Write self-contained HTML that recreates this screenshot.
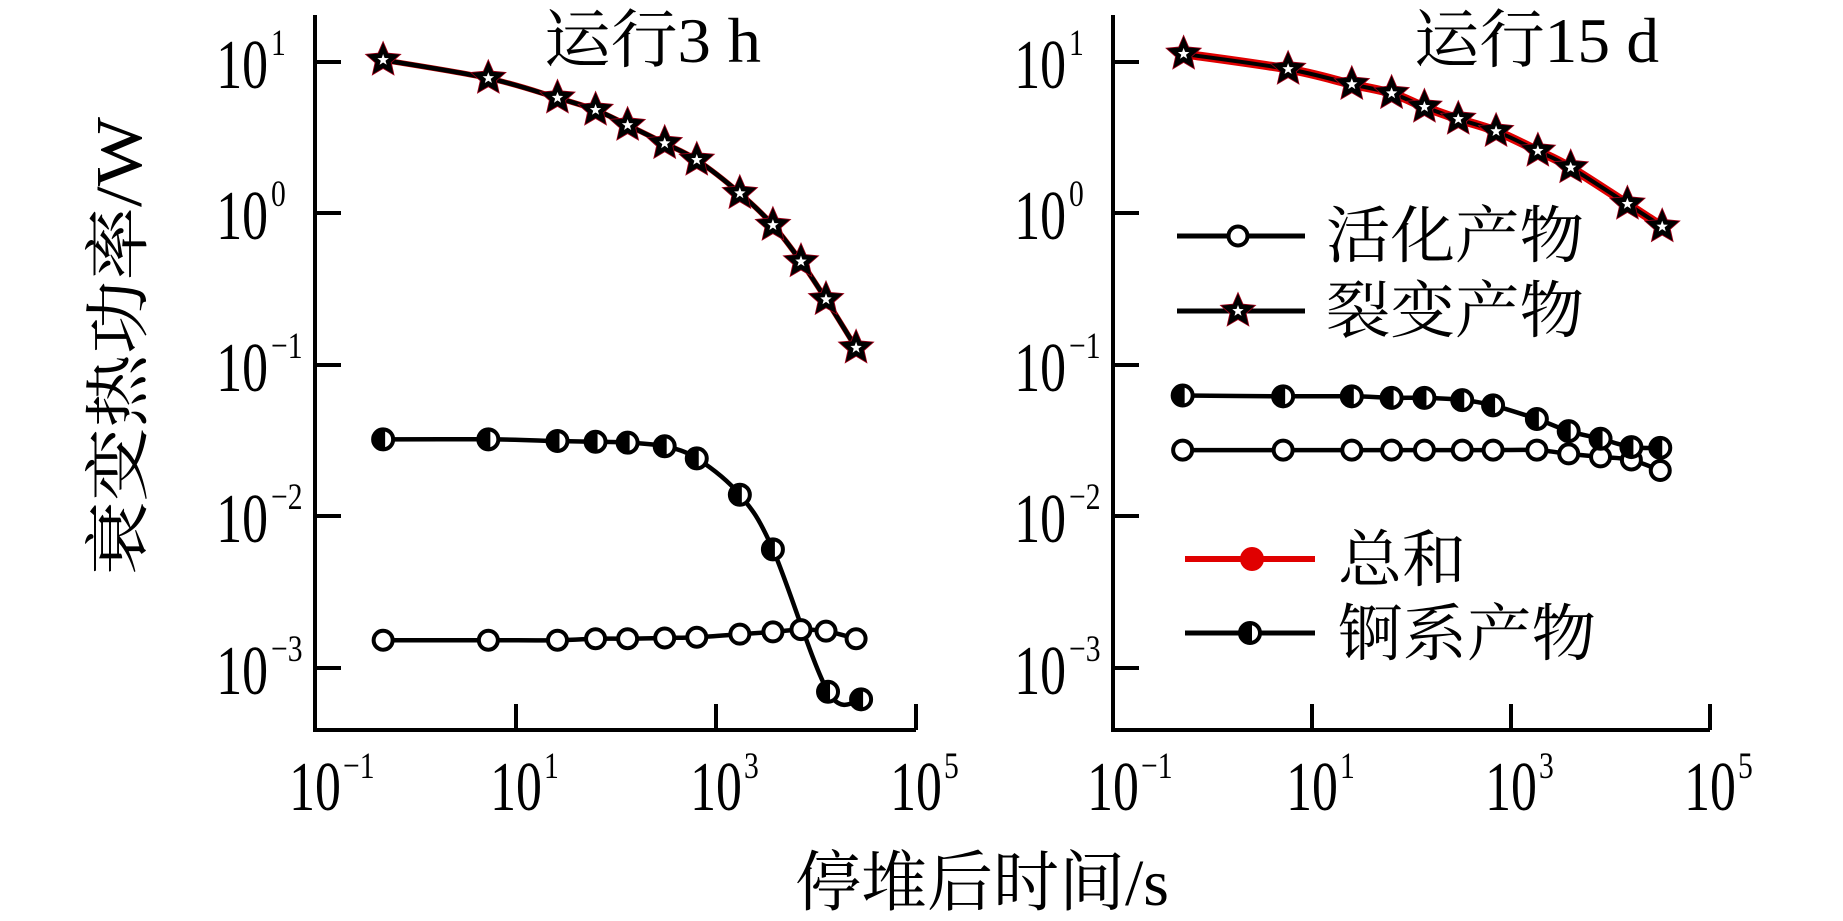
<!DOCTYPE html>
<html><head><meta charset="utf-8"><style>
html,body{margin:0;padding:0;background:#fff;}
svg{display:block;}
text{font-family:"Liberation Serif","Noto Serif CJK SC",serif;fill:#000;}
.cj{font-family:"Liberation Serif","Noto Serif CJK SC","Noto Sans CJK SC",serif;}
</style></head><body>
<svg id="s" width="1843" height="921" viewBox="0 0 1843 921" xmlns="http://www.w3.org/2000/svg">
<g id="axes" stroke="#000" stroke-width="4" fill="none">
<path d="M315 15 V730 H916"/>
<path d="M1113 15 V730 H1710"/>
<path d="M315 62 h26 M315 213 h26 M315 365 h26 M315 516 h26 M315 668 h26"/>
<path d="M1113 62 h26 M1113 213 h26 M1113 365 h26 M1113 516 h26 M1113 668 h26"/>
<path d="M516 730 v-26 M716 730 v-26 M916 730 v-26"/>
<path d="M1312 730 v-26 M1511 730 v-26 M1710 730 v-26"/>
</g>
<g id="data"></g>
<g font-size="70">
<text transform="translate(268,88) scale(0.74,1)" text-anchor="end">10</text>
<text transform="translate(268,239) scale(0.74,1)" text-anchor="end">10</text>
<text transform="translate(268,391) scale(0.74,1)" text-anchor="end">10</text>
<text transform="translate(268,542) scale(0.74,1)" text-anchor="end">10</text>
<text transform="translate(268,694) scale(0.74,1)" text-anchor="end">10</text>
<text transform="translate(1066,88) scale(0.74,1)" text-anchor="end">10</text>
<text transform="translate(1066,239) scale(0.74,1)" text-anchor="end">10</text>
<text transform="translate(1066,391) scale(0.74,1)" text-anchor="end">10</text>
<text transform="translate(1066,542) scale(0.74,1)" text-anchor="end">10</text>
<text transform="translate(1066,694) scale(0.74,1)" text-anchor="end">10</text>
<text transform="translate(315,810) scale(0.74,1)" text-anchor="middle">10</text>
<text transform="translate(516,810) scale(0.74,1)" text-anchor="middle">10</text>
<text transform="translate(716,810) scale(0.74,1)" text-anchor="middle">10</text>
<text transform="translate(916,810) scale(0.74,1)" text-anchor="middle">10</text>
<text transform="translate(1113,810) scale(0.74,1)" text-anchor="middle">10</text>
<text transform="translate(1312,810) scale(0.74,1)" text-anchor="middle">10</text>
<text transform="translate(1511,810) scale(0.74,1)" text-anchor="middle">10</text>
<text transform="translate(1710,810) scale(0.74,1)" text-anchor="middle">10</text>
</g>
<g font-size="37">
<text transform="translate(271,55) scale(0.8,1)">1</text>
<text transform="translate(271,206) scale(0.8,1)">0</text>
<text transform="translate(271,358) scale(0.8,1)">−1</text>
<text transform="translate(271,509) scale(0.8,1)">−2</text>
<text transform="translate(271,661) scale(0.8,1)">−3</text>
<text transform="translate(1069,55) scale(0.8,1)">1</text>
<text transform="translate(1069,206) scale(0.8,1)">0</text>
<text transform="translate(1069,358) scale(0.8,1)">−1</text>
<text transform="translate(1069,509) scale(0.8,1)">−2</text>
<text transform="translate(1069,661) scale(0.8,1)">−3</text>
<text transform="translate(343,778) scale(0.8,1)">−1</text>
<text transform="translate(544,778) scale(0.8,1)">1</text>
<text transform="translate(744,778) scale(0.8,1)">3</text>
<text transform="translate(944,778) scale(0.8,1)">5</text>
<text transform="translate(1141,778) scale(0.8,1)">−1</text>
<text transform="translate(1340,778) scale(0.8,1)">1</text>
<text transform="translate(1539,778) scale(0.8,1)">3</text>
<text transform="translate(1738,778) scale(0.8,1)">5</text>
</g>
<g class="cj" font-size="64">
<text x="544" y="62" textLength="217" lengthAdjust="spacingAndGlyphs">运行3 h</text>
<text x="1414" y="62" textLength="245" lengthAdjust="spacingAndGlyphs">运行15 d</text>
</g>
<g class="cj" font-size="62">
<text x="1326" y="257" textLength="258" lengthAdjust="spacingAndGlyphs">活化产物</text>
<text x="1326" y="332" textLength="258" lengthAdjust="spacingAndGlyphs">裂变产物</text>
<text x="1338" y="581" textLength="128" lengthAdjust="spacingAndGlyphs">总和</text>
<text x="1338" y="655" textLength="258" lengthAdjust="spacingAndGlyphs">锕系产物</text>
</g>
<text class="cj" x="795" y="905" font-size="66" textLength="374" lengthAdjust="spacingAndGlyphs">停堆后时间/s</text>
<text class="cj" transform="translate(141,575) rotate(-90)" font-size="66" textLength="458" lengthAdjust="spacingAndGlyphs">衰变热功率/W</text>
</svg>
<script>
(function(){
var g=document.getElementById('data'),out='';
function Y(L){return 61.5+(1-L)*151.5;}
function XL(L){return 315+(L+1)*100.2;}
function XR(L){return 1113+(L+1)*99.5;}
function path(p){var d='M'+p[0][0]+' '+p[0][1];for(var i=0;i<p.length-1;i++){var p0=p[i-1]||p[i],p1=p[i],p2=p[i+1],p3=p[i+2]||p2;
var c1=[p1[0]+(p2[0]-p0[0])/6,p1[1]+(p2[1]-p0[1])/6],c2=[p2[0]-(p3[0]-p1[0])/6,p2[1]-(p3[1]-p1[1])/6];
d+=' C'+c1[0].toFixed(1)+' '+c1[1].toFixed(1)+' '+c2[0].toFixed(1)+' '+c2[1].toFixed(1)+' '+p2[0].toFixed(1)+' '+p2[1].toFixed(1);}return d;}
function pts(X,xs,ys){return xs.map(function(x,i){return [X(x),Y(ys[i])];});}
function line(p,col,w){out+='<path d="'+path(p)+'" fill="none" stroke="'+col+'" stroke-width="'+w+'" stroke-linejoin="round"/>';}
function starP(cx,cy,R,r){var s='';for(var i=0;i<10;i++){var a=-Math.PI/2+i*Math.PI/5,rr=i%2?r:R;s+=(cx+rr*Math.cos(a)).toFixed(1)+','+(cy+rr*Math.sin(a)).toFixed(1)+' ';}return s;}
function star(x,y){out+='<polygon points="'+starP(x,y,19.5,9)+'" fill="#a00018"/><polygon points="'+starP(x,y,17.5,8)+'" fill="#000"/><polygon points="'+starP(x,y,6,2.5)+'" fill="#fff"/>';}
function open(x,y){out+='<circle cx="'+x+'" cy="'+y+'" r="9.5" fill="#fff" stroke="#000" stroke-width="4"/>';}
function half(x,y){out+='<circle cx="'+x+'" cy="'+y+'" r="10" fill="#fff" stroke="#000" stroke-width="4"/><path d="M'+(x+2)+' '+(y-11)+' A11 11 0 0 0 '+(x+2)+' '+(y+11)+' Z" fill="#000"/>';}
var lt=[-0.32,0.73,1.42,1.80,2.12,2.49,2.81,3.24,3.57,3.85,4.10,4.40];
var ls=[1.01,0.89,0.76,0.68,0.58,0.46,0.35,0.13,-0.08,-0.32,-0.57,-0.89];
var la=[-2.82,-2.82,-2.82,-2.81,-2.81,-2.805,-2.80,-2.78,-2.765,-2.75,-2.76,-2.81];
var at=[-0.32,0.73,1.42,1.80,2.12,2.49,2.81,3.24,3.57,4.12,4.45];
var ac=[-1.494,-1.494,-1.505,-1.51,-1.516,-1.54,-1.62,-1.86,-2.22,-3.16,-3.21];
var P=pts(XL,lt,ls);line(P,'#c00000',5.5);line(P,'#000',4.5);
var A=pts(XL,lt,la);line(A,'#000',4.5);
var C=pts(XL,at,ac);line(C,'#000',4.5);
A.forEach(function(p){open(p[0],p[1]);});C.forEach(function(p){half(p[0],p[1]);});P.forEach(function(p){star(p[0],p[1]);});
var rs_t=[-0.29,0.76,1.40,1.80,2.13,2.47,2.85,3.27,3.60,4.17,4.52];
var rs=[1.05,0.95,0.85,0.79,0.70,0.62,0.54,0.41,0.30,0.06,-0.09];
var rt=[-0.30,0.71,1.40,1.80,2.13,2.51,2.82,3.26,3.58,3.90,4.21,4.50];
var ra=[-1.565,-1.565,-1.565,-1.565,-1.565,-1.565,-1.565,-1.565,-1.59,-1.61,-1.63,-1.70];
var rc=[-1.205,-1.21,-1.21,-1.22,-1.22,-1.235,-1.27,-1.36,-1.44,-1.49,-1.545,-1.55];
P=pts(XR,rs_t,rs);line(P,'#e00000',9);line(P,'#000',4);
A=pts(XR,rt,ra);line(A,'#000',4.5);C=pts(XR,rt,rc);line(C,'#000',4.5);
A.forEach(function(p){open(p[0],p[1]);});C.forEach(function(p){half(p[0],p[1]);});P.forEach(function(p){star(p[0],p[1]);});
out+='<path d="M1177 236 H1305 M1177 311 H1305 M1185 633 H1315" stroke="#000" stroke-width="5"/>';
out+='<path d="M1185 559 H1315" stroke="#e00000" stroke-width="6"/><circle cx="1252" cy="559" r="12" fill="#e00000"/>';
open(1238,236);star(1238,311);half(1250,633);
g.innerHTML=out;
})();
</script>
</body></html>
